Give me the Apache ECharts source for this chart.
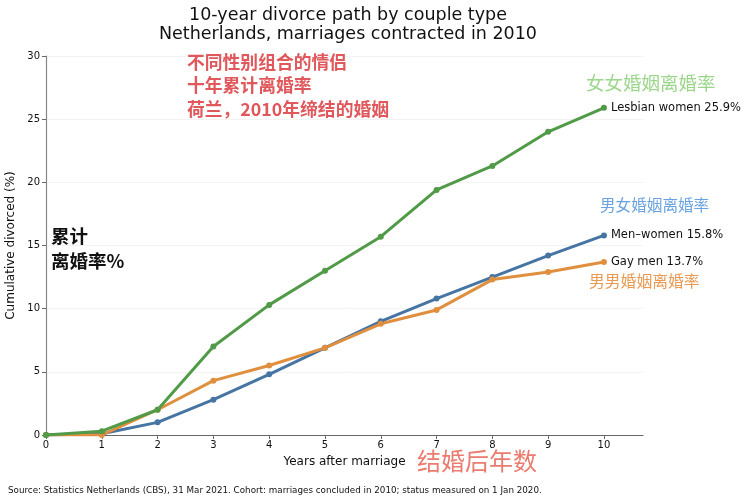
<!DOCTYPE html>
<html>
<head>
<meta charset="utf-8">
<script src="https://cdn.jsdelivr.net/npm/echarts@6/dist/echarts.min.js"></script>
<style>
  html, body { margin: 0; padding: 0; background: #fff; }
  #main { width: 750px; height: 499px; }
</style>
</head>
<body>
<div id="main"></div>
<script>
// years after marriage
const years = [0, 1, 2, 3, 4, 5, 6, 7, 8, 9, 10];
// cumulative divorced (%)
const menWomen = [0, 0.1, 1.0, 2.8, 4.8, 6.9, 9.0, 10.8, 12.5, 14.2, 15.8];
const gayMen = [0, 0.0, 2.0, 4.3, 5.5, 6.9, 8.8, 9.9, 12.3, 12.9, 13.7];
const lesbianWomen = [0, 0.3, 2.0, 7.0, 10.3, 13.0, 15.7, 19.4, 21.3, 24.0, 25.9];
const yTicks = [0, 5, 10, 15, 20, 25, 30];

const latin = 'DejaVu Sans';
const cjk = 'Noto Sans CJK SC';

const myChart = echarts.init(document.getElementById('main'));

function pairs(arr) {
  return years.map((x, i) => [x, arr[i]]);
}

function lineSeries(name, data, color) {
  return {
    name: name,
    type: 'line',
    data: pairs(data),
    symbol: 'circle',
    symbolSize: 6,
    showSymbol: true,
    lineStyle: { width: 3, color: color },
    itemStyle: { color: color },
    endLabel: {
      show: true,
      distance: 7,
      color: '#111',
      fontFamily: latin,
      fontSize: 11.5,
      formatter: p => name + ' ' + p.value[1].toFixed(1) + '%'
    },
    animation: false
  };
}

const option = {
  backgroundColor: '#fff',
  title: {
    text: '10-year divorce path by couple type\nNetherlands, marriages contracted in 2010',
    left: 343,
    textAlign: 'center',
    top: 1,
    textStyle: { fontFamily: latin, fontWeight: 'normal', fontSize: 17.5, color: '#111', lineHeight: 19 }
  },
  grid: { left: 46, right: 107, top: 56, bottom: 64, outerBoundsMode: 'none' },
  xAxis: {
    type: 'value',
    min: 0,
    max: 10.7,
    interval: 1,
    name: 'Years after marriage',
    nameLocation: 'middle',
    nameGap: 21,
    nameTextStyle: { fontFamily: latin, fontSize: 12, color: '#111' },
    axisLine: { lineStyle: { color: '#666', width: 1.2 } },
    axisTick: { show: true, customValues: years, length: 4, lineStyle: { color: '#666' } },
    axisLabel: { customValues: years, fontFamily: latin, fontSize: 10, color: '#111', margin: 5 },
    splitLine: { show: false }
  },
  yAxis: {
    type: 'value',
    min: 0,
    max: 30,
    interval: 5,
    name: 'Cumulative divorced (%)',
    nameLocation: 'middle',
    nameGap: 26,
    nameTextStyle: { fontFamily: latin, fontSize: 12, color: '#111' },
    axisLine: { show: true, lineStyle: { color: '#888', width: 1.2 } },
    axisTick: { show: true, customValues: yTicks, length: 4, lineStyle: { color: '#666' } },
    axisLabel: { customValues: yTicks, fontFamily: latin, fontSize: 10, color: '#111', margin: 6 },
    splitLine: { show: true, lineStyle: { color: '#f3f3f3', width: 1 } }
  },
  series: [
    lineSeries('Men–women', menWomen, '#4675a3'),
    lineSeries('Gay men', gayMen, '#e08f3e'),
    lineSeries('Lesbian women', lesbianWomen, '#519a47')
  ],
  graphic: [
    {
      type: 'text', left: 187, top: 50, z: 100,
      style: {
        text: '不同性别组合的情侣\n十年累计离婚率\n荷兰，2010年缔结的婚姻',
        fontFamily: cjk, fontSize: 17.8, fontWeight: 'bold', lineHeight: 23.5, fill: '#e0585c'
      }
    },
    {
      type: 'text', left: 51, top: 223, z: 100,
      style: { text: '累计\n离婚率%', fontFamily: cjk, fontSize: 18.5, fontWeight: 'bold', lineHeight: 25.5, fill: '#111' }
    },
    {
      type: 'text', left: 586, top: 74, z: 100,
      style: { text: '女女婚姻离婚率', fontFamily: cjk, fontSize: 18.5, fill: '#9cd68c' }
    },
    {
      type: 'text', left: 600, top: 197, z: 100,
      style: { text: '男女婚姻离婚率', fontFamily: cjk, fontSize: 15.6, fill: '#6aa3e0' }
    },
    {
      type: 'text', left: 589, top: 273, z: 100,
      style: { text: '男男婚姻离婚率', fontFamily: cjk, fontSize: 15.8, fill: '#e99a52' }
    },
    {
      type: 'text', left: 417, top: 449, z: 100,
      style: { text: '结婚后年数', fontFamily: cjk, fontSize: 24, fill: '#ea7b6e' }
    },
    {
      type: 'text', left: 8, top: 486, z: 100,
      style: {
        text: 'Source: Statistics Netherlands (CBS), 31 Mar 2021. Cohort: marriages concluded in 2010; status measured on 1 Jan 2020.',
        fontFamily: latin, fontSize: 8.75, fill: '#111'
      }
    }
  ]
};

option && myChart.setOption(option);
</script>
</body>
</html>
